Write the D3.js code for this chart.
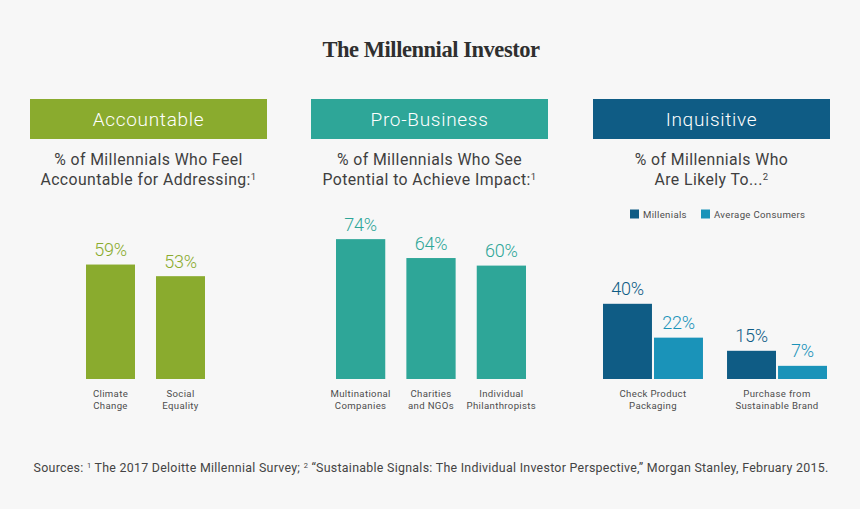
<!DOCTYPE html>
<html>
<head>
<meta charset="utf-8">
<script src="https://cdn.jsdelivr.net/npm/d3@7"></script>
<style>
  html, body { margin: 0; padding: 0; background: #f7f7f7; }
  svg { display: block; }
  text { font-family: Roboto, "Open Sans", sans-serif; font-weight: 300; text-anchor: middle; }
  .title { font-family: "Liberation Serif", serif; font-weight: 700; font-size: 22.5px; fill: #2f2f2f; letter-spacing: -0.45px; }
  .head { font-size: 19px; fill: #fff; letter-spacing: 0.7px; }
  .sub { font-size: 15.8px; fill: #3f3f3f; letter-spacing: 0.42px; font-weight: 400; }
  .val { font-size: 18px; letter-spacing: -0.2px; font-weight: 300; }
  .cat { font-size: 9.6px; fill: #4d4d4d; letter-spacing: 0.35px; font-weight: 400; }
  .leg { font-size: 9.6px; fill: #4d4d4d; letter-spacing: 0.33px; text-anchor: start; font-weight: 400; }
  .src { font-size: 12.4px; fill: #444; letter-spacing: 0.28px; font-weight: 400; }
</style>
</head>
<body>
<svg id="chart" width="860" height="509"></svg>
<script>
// ----- data -----
const accountableCats = [["Climate", "Change"], ["Social", "Equality"]];
const accountableVals = [59, 53];

const businessCats = [["Multinational", "Companies"], ["Charities", "and NGOs"], ["Individual", "Philanthropists"]];
const businessVals = [74, 64, 60];

const inquisitiveCats = [["Check Product", "Packaging"], ["Purchase from", "Sustainable Brand"]];
const seriesNames = ["Millenials", "Average Consumers"];
const millenialVals = [40, 15];
const consumerVals = [22, 7];

const green = "#8aab2e", teal = "#2ea698", navy = "#0f5c85", blue = "#1a93b9";

const svg = d3.select("#chart");
const baseY = 379;
const labelGap = 8.5;

// writes a string into a text node, with ^1 style markers set as small raised tspans
function richText(sel, str) {
  str.split(/(\^\d)/).forEach((part) => {
    if (part.startsWith("^")) {
      sel.append("tspan").attr("font-size", "0.6em").attr("dy", "-0.55em").text(part.slice(1));
    } else if (part) {
      const t = sel.append("tspan").text(part);
      if (sel.selectAll("tspan").size() > 1) t.attr("dy", "0.33em");
    }
  });
}

svg.append("text").attr("class", "title").attr("x", 431).attr("y", 57).text("The Millennial Investor");

// ----- panel headers -----
const headers = [
  { x: 30, w: 237, c: green, t: "Accountable", sub: ["% of Millennials Who Feel", "Accountable for Addressing:^1"] },
  { x: 311, w: 237, c: teal, t: "Pro-Business", sub: ["% of Millennials Who See", "Potential to Achieve Impact:^1"] },
  { x: 593, w: 237, c: navy, t: "Inquisitive", sub: ["% of Millennials Who", "Are Likely To...^2"] },
];

headers.forEach((h) => {
  const cx = h.x + h.w / 2;
  svg.append("rect").attr("x", h.x).attr("y", 99).attr("width", h.w).attr("height", 40).attr("fill", h.c);
  svg.append("text").attr("class", "head").attr("x", cx).attr("y", 125.5).text(h.t);
  h.sub.forEach((line, i) => {
    const t = svg.append("text").attr("class", "sub").attr("x", cx).attr("y", 165 + i * 20);
    richText(t, line);
  });
});

function catLabel(lines, cx) {
  lines.forEach((line, i) => {
    svg.append("text").attr("class", "cat").attr("x", cx).attr("y", 397 + i * 12).text(line);
  });
}

// ----- single series panels -----
function simplePanel(cats, vals, range, k, color) {
  const x = d3.scaleBand().domain(d3.range(cats.length)).range(range).paddingInner(0.3);
  const y = d3.scaleLinear().domain([0, 100]).range([baseY, baseY - 100 * k]);

  vals.forEach((v, i) => {
    svg.append("rect")
      .attr("x", x(i)).attr("y", y(v))
      .attr("width", x.bandwidth()).attr("height", baseY - y(v))
      .attr("fill", color);
    svg.append("text").attr("class", "val").attr("fill", color)
      .attr("x", x(i) + x.bandwidth() / 2).attr("y", y(v) - labelGap)
      .text(v + "%");
    catLabel(cats[i], x(i) + x.bandwidth() / 2);
  });
}

simplePanel(accountableCats, accountableVals, [86, 205], 1.94, green);
simplePanel(businessCats, businessVals, [336, 526], 1.89, teal);

// ----- grouped panel -----
const x0 = d3.scaleBand().domain(d3.range(inquisitiveCats.length)).range([603, 827]).paddingInner(0.194);
const x1 = d3.scaleBand().domain(d3.range(2)).range([0, x0.bandwidth()]).paddingInner(0.04);
const y3 = d3.scaleLinear().domain([0, 100]).range([baseY, baseY - 188]);
const groupColors = [navy, blue];

[millenialVals, consumerVals].forEach((vals, s) => {
  vals.forEach((v, i) => {
    const bx = x0(i) + x1(s);
    svg.append("rect")
      .attr("x", bx).attr("y", y3(v))
      .attr("width", x1.bandwidth()).attr("height", baseY - y3(v))
      .attr("fill", groupColors[s]);
    svg.append("text").attr("class", "val").attr("fill", groupColors[s])
      .attr("x", bx + x1.bandwidth() / 2).attr("y", y3(v) - labelGap)
      .text(v + "%");
  });
});
inquisitiveCats.forEach((c, i) => catLabel(c, x0(i) + x0.bandwidth() / 2));

// ----- legend -----
const legendX = [630, 701];
seriesNames.forEach((name, i) => {
  svg.append("rect").attr("x", legendX[i]).attr("y", 209.5).attr("width", 9).attr("height", 9).attr("fill", groupColors[i]);
  svg.append("text").attr("class", "leg").attr("x", legendX[i] + 13).attr("y", 218).text(name);
});

// ----- sources -----
const src = svg.append("text").attr("class", "src").attr("x", 431).attr("y", 472);
richText(src, "Sources: ^1 The 2017 Deloitte Millennial Survey; ^2 “Sustainable Signals: The Individual Investor Perspective,” Morgan Stanley, February 2015.");
</script>
</body>
</html>
